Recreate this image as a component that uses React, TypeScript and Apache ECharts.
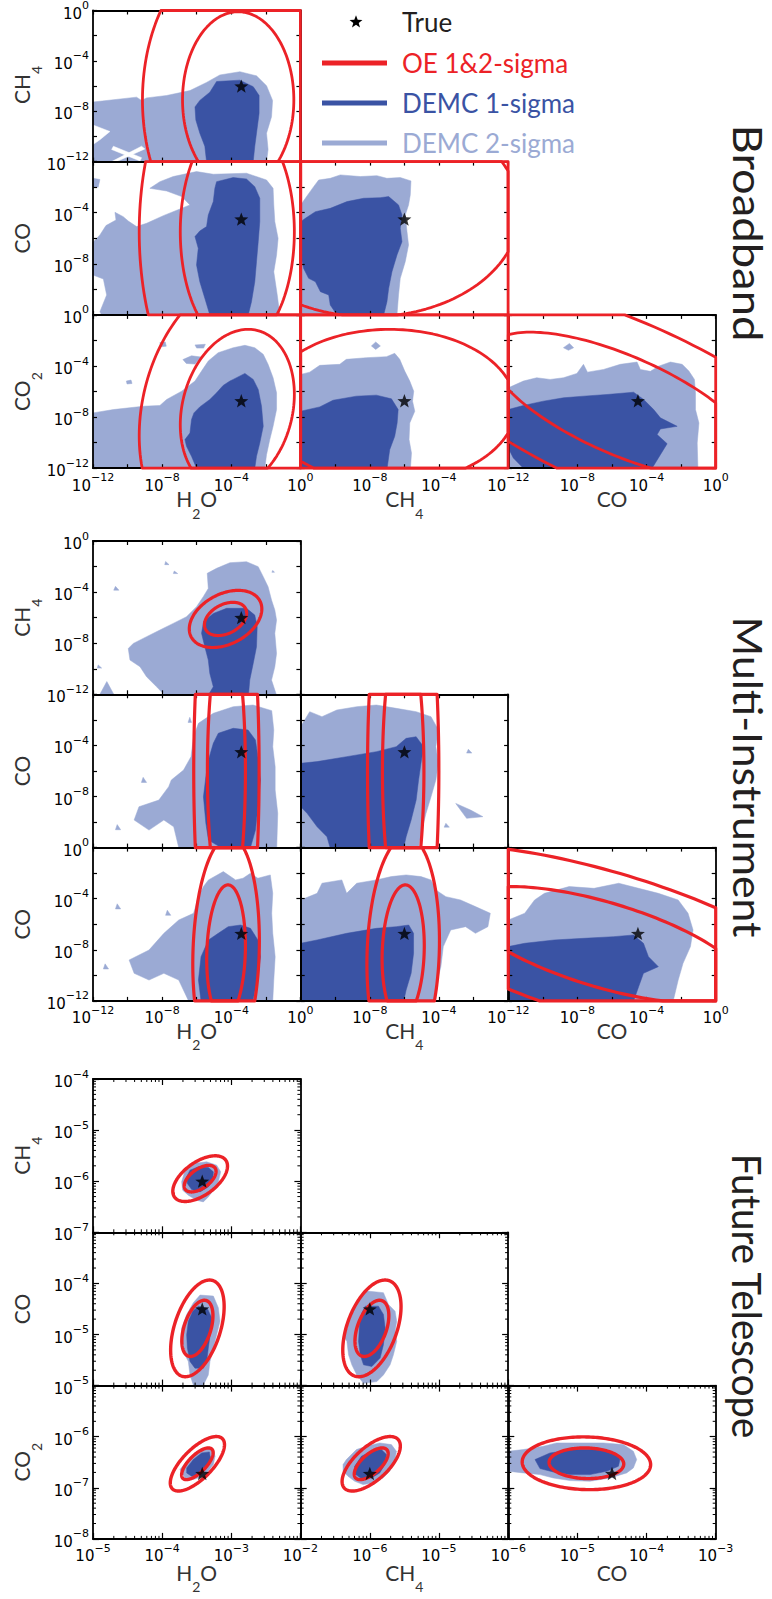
import React, { useEffect, useRef } from 'react';
import * as echarts from 'echarts';

// ---------------- colours ----------------
const RED = '#EC2227';
const DARK_BLUE = '#3A53A4';
const LIGHT_BLUE = '#9BAAD4';
const INK = '#231F20';

// ---------------- species / truth (log10 mixing ratio) ----------------
const X_NAMES = [['H', '2', 'O'], ['CH', '4', ''], ['CO', '', '']];
const Y_NAMES_BB = [['CH', '4', ''], ['CO', '', ''], ['CO', '2', '']];
const Y_NAMES_MI = [['CH', '4', ''], ['CO', '', ''], ['CO', '', '']];
const Y_NAMES_FT = [['CH', '4', ''], ['CO', '', ''], ['CO', '2', '']];
const X_SPECIES = ['H2O', 'CH4', 'CO'];
const Y_SPECIES = ['CH4', 'CO', 'CO2'];
const TRUE_LOG10: Record<string, number> = { H2O: -3.42, CH4: -6.0, CO: -4.5, CO2: -6.72 };

// ---------------- axes ----------------
const BB_RANGE = [-12, 0];
const FT_X_RANGES = [[-5, -2], [-7, -4], [-6, -3]];
const FT_Y_RANGES = [[-7, -4], [-6, -3], [-8, -5]];
const WIDE_X_LABELS = [[-12, -8, -4, 0], [-8, -4], [-12, -8, -4, 0]];
const WIDE_Y_LABELS = [[0, -4, -8, -12], [-4, -8], [0, -4, -8, -12]];
const FT_X_LABELS = [[-5, -4, -3, -2], [-6, -5], [-6, -5, -4, -3]];
const FT_Y_LABELS = [[-4, -5, -6, -7], [-4, -5], [-5, -6, -7, -8]];
const MINOR_FACTORS = [2, 3, 4, 5, 6, 7, 8, 9];
const OE_LEVELS = [1, 1.72];

// ---------------- Broadband: DEMC contours (log10 x, log10 y) ----------------
const BB_R1C1_LIGHT = [[[-12, -7.27], [-9.48, -6.88], [-9.19, -7.14], [-8.9, -6.94], [-7.74, -6.75], [-6.39, -6.36], [-5.43, -5.71], [-4.66, -5.12], [-3.5, -4.86], [-2.54, -5.19], [-1.96, -5.97], [-1.61, -7.14], [-1.67, -8.44], [-1.96, -9.74], [-1.87, -11.04], [-1.96, -12], [-12, -12]]];
const BB_R1C1_HOLES = [
  [[-12, -9.09], [-11.02, -9.61], [-11.6, -10.26], [-12, -10.65]],
  [[-10.92, -12], [-9.19, -10.78], [-9.0, -10.99], [-10.63, -12]],
  [[-10.82, -10.78], [-9.19, -11.69], [-9.28, -11.95], [-10.92, -11.04]],
];
const BB_R1C1_DARK = [[[-4.85, -5.64], [-3.5, -5.53], [-2.73, -6.05], [-2.39, -6.75], [-2.39, -8.18], [-2.54, -9.74], [-2.64, -10.78], [-2.73, -12], [-5.43, -12], [-5.53, -10.78], [-5.82, -9.74], [-6.05, -8.7], [-6.1, -7.66], [-5.82, -7.14], [-5.24, -6.49]]];
const BB_R2C1_LIGHT = [
  [[-1.96, -1.44], [-3.12, -0.91], [-5.04, -0.99], [-6.01, -0.78], [-7.36, -1.17], [-8.13, -1.57], [-8.71, -2.09], [-7.74, -2.3], [-6.87, -2.74], [-6.39, -3.39], [-6.97, -3.71], [-7.93, -4.23], [-8.9, -4.83], [-9.48, -5.09], [-9.96, -4.65], [-10.25, -4.31], [-10.73, -3.97], [-10.67, -4.57], [-11.25, -5.01], [-11.6, -5.74], [-12, -6.32], [-12, -8.88], [-11.4, -9.19], [-11.21, -10.44], [-11.6, -11.75], [-11.5, -12], [-1.19, -12], [-1.34, -10.44], [-1.54, -8.62], [-1.38, -7.31], [-1.29, -6.01], [-1.48, -4.7], [-1.54, -3.39], [-1.58, -2.09]],
  [[-12, -1.3], [-11.6, -1.4], [-11.7, -2.0], [-12, -2.0]],
];
const BB_R2C1_DARK = [[[-4.85, -1.57], [-3.89, -1.25], [-3.12, -1.36], [-2.64, -1.96], [-2.35, -2.87], [-2.35, -4.7], [-2.44, -6.27], [-2.54, -7.83], [-2.64, -9.4], [-2.83, -10.97], [-3.02, -12], [-5.24, -12], [-5.53, -10.7], [-5.82, -9.4], [-6.01, -8.09], [-5.91, -6.79], [-6.1, -5.87], [-5.82, -5.43], [-5.43, -5.09], [-5.33, -4.18], [-5.04, -3.13], [-4.95, -2.09]]];
const BB_R2C2_LIGHT = [[[-11.73, -2.87], [-11.25, -1.96], [-10.96, -1.44], [-10.29, -1.31], [-9.71, -1.04], [-8.55, -1.17], [-7.59, -1.1], [-7.01, -1.31], [-6.24, -1.25], [-5.62, -1.51], [-5.66, -2.61], [-5.76, -3.39], [-5.95, -4.18], [-5.85, -5.48], [-5.76, -6.53], [-5.95, -7.83], [-6.24, -9.14], [-6.34, -10.44], [-6.43, -12], [-12, -12], [-12, -3.39]]];
const BB_R2C2_DARK = [[[-11.73, -4.44], [-11.15, -3.92], [-10.29, -3.66], [-9.32, -3.13], [-8.36, -2.87], [-7.4, -2.82], [-6.91, -2.74], [-6.34, -3.39], [-6.14, -4.18], [-6.24, -5.22], [-6.14, -6.27], [-6.43, -7.31], [-6.72, -8.62], [-6.91, -9.92], [-7.01, -10.97], [-7.2, -12], [-9.9, -12], [-10.29, -11.23], [-10.38, -10.44], [-10.86, -10.18], [-11.15, -9.4], [-11.54, -9.14], [-11.83, -8.36], [-12, -7.31], [-12, -4.7]]];
const BB_R3C1_LIGHT = [
  [[-12, -7.67], [-10.82, -7.41], [-9.09, -7.15], [-8.13, -7.09], [-7.74, -6.62], [-6.87, -5.97], [-6.1, -5.18], [-5.72, -4.4], [-5.33, -3.61], [-4.76, -2.96], [-3.89, -2.57], [-3.21, -2.38], [-2.64, -2.57], [-2.15, -3.09], [-1.87, -3.87], [-1.58, -4.92], [-1.38, -6.1], [-1.38, -7.41], [-1.58, -8.72], [-1.77, -9.76], [-1.96, -10.94], [-2.06, -12], [-12, -12]],
  [[-8.13, -2.17], [-7.82, -2.12], [-7.76, -2.45], [-8.09, -2.5]],
  [[-10.07, -5.18], [-9.8, -5.1], [-9.74, -5.37], [-10.03, -5.41]],
  [[-6.1, -2.35], [-5.5, -2.3], [-5.6, -2.6], [-6.0, -2.6]],
  [[-6.8, -3.5], [-6.3, -3.2], [-5.75, -3.3], [-6.1, -3.85], [-6.6, -3.8]],
];
const BB_R3C1_DARK = [[[-3.89, -5.05], [-3.21, -4.58], [-2.73, -5.05], [-2.44, -5.84], [-2.25, -7.15], [-2.15, -8.72], [-2.35, -10.03], [-2.54, -11.07], [-2.64, -12], [-6.01, -12], [-6.3, -11.07], [-6.59, -10.29], [-6.68, -9.76], [-6.39, -9.24], [-6.3, -8.19], [-6.16, -7.67], [-5.82, -7.2], [-5.24, -6.62], [-4.85, -6.1], [-4.47, -5.52], [-4.08, -5.18]]];
const BB_R3C2_LIGHT = [
  [[-12, -4.66], [-11.48, -4.48], [-10.9, -3.95], [-9.74, -3.87], [-9.36, -3.48], [-8.2, -3.35], [-7.04, -3.27], [-6.56, -3.01], [-6.27, -3.48], [-5.98, -4.4], [-5.69, -5.18], [-5.46, -5.97], [-5.53, -6.75], [-5.4, -7.54], [-5.69, -8.46], [-5.73, -9.76], [-5.59, -10.81], [-5.65, -12], [-12, -12]],
  [[-7.91, -2.43], [-7.66, -2.12], [-7.39, -2.43], [-7.66, -2.7]],
];
const BB_R3C2_DARK = [[[-12, -7.54], [-10.9, -7.2], [-10.13, -6.68], [-8.78, -6.36], [-7.62, -6.28], [-6.75, -6.57], [-6.36, -7.41], [-6.42, -8.46], [-6.56, -9.5], [-6.85, -10.55], [-7.0, -12], [-12, -12]]];
const BB_R3C3_LIGHT = [
  [[-12, -5.71], [-11.13, -5.18], [-10.36, -4.92], [-9.58, -5.05], [-8.81, -4.92], [-8.03, -4.58], [-7.65, -3.87], [-7.42, -4.48], [-6.49, -4.27], [-5.52, -3.87], [-4.55, -3.69], [-4.36, -4.27], [-3.78, -4.42], [-3.3, -4.01], [-2.62, -3.69], [-1.94, -3.87], [-1.55, -4.4], [-1.23, -5.05], [-1.17, -6.1], [-1.17, -7.41], [-0.97, -8.46], [-1.07, -10.03], [-1.03, -12], [-12, -12]],
  [[-8.81, -2.57], [-8.46, -2.23], [-8.22, -2.57], [-8.52, -2.77]],
];
const BB_R3C3_DARK = [[[-12, -7.41], [-11.13, -7.09], [-9.97, -6.75], [-8.81, -6.49], [-7.65, -6.36], [-6.29, -6.23], [-4.75, -6.05], [-4.17, -6.62], [-3.59, -7.41], [-3.2, -8.06], [-2.23, -8.72], [-3.2, -8.93], [-3.39, -9.37], [-2.81, -10.08], [-3.2, -10.94], [-3.68, -12], [-11.13, -12], [-11.71, -11.2], [-12, -10.42]]];

// OE Gaussian: [centre x, centre y, sigma x, sigma y, correlation]
const BB_OE = [
  [[-3.6, -7.1, 3.22, 7.0, 0]],
  [[-3.65, -5.5, 3.3, 9.0, 0], [-8.0, -3.9, 8.66, 8.24, 0]],
  [[-3.65, -7.41, 3.3, 6.28, 0.19], [-6.85, -7.17, 7.29, 6.04, 0], [-5.39, -7.09, 7.71, 5.74, -0.689]],
];

// ---------------- Multi-Instrument ----------------
const MI_R1C1_LIGHT = [
  [[-5.33, -3.71], [-5.39, -2.53], [-4.85, -2.14], [-4.08, -1.7], [-3.12, -1.62], [-2.44, -2.01], [-2.15, -2.79], [-1.87, -3.58], [-1.67, -4.62], [-1.48, -5.4], [-1.38, -6.19], [-1.48, -7.23], [-1.38, -8.8], [-1.48, -9.84], [-1.67, -10.89], [-1.4, -12], [-7.9, -12], [-8.32, -11.41], [-8.9, -10.63], [-9.28, -9.84], [-9.86, -9.32], [-9.96, -8.41], [-9.67, -8.02], [-8.9, -7.49], [-8.13, -6.97], [-7.36, -6.45], [-6.59, -5.93], [-6.01, -5.14], [-5.62, -4.36]],
  [[-7.8, -1.6], [-7.6, -1.85], [-7.85, -1.85]],
  [[-7.3, -2.35], [-7.1, -2.55], [-7.35, -2.55]],
  [[-10.7, -3.55], [-10.5, -3.85], [-10.8, -3.85]],
  [[-1.6, -2.3], [-1.5, -2.45], [-1.65, -2.45]],
  [[-11.7, -9.7], [-11.5, -9.95], [-11.75, -9.95]],
  [[-11.6, -12], [-11.2, -11.0], [-10.8, -12]],
];
const MI_R1C1_DARK = [[[-5.04, -5.67], [-4.27, -5.27], [-3.12, -5.27], [-2.64, -5.8], [-2.5, -6.71], [-2.54, -8.28], [-2.73, -9.58], [-2.93, -10.89], [-3.0, -12], [-5.3, -12], [-5.04, -11.41], [-5.24, -10.37], [-5.33, -9.32], [-5.53, -8.28], [-5.72, -7.23], [-5.6, -6.3]]];
const MI_R2C1_LIGHT = [
  [[-5.04, -1.49], [-3.89, -0.97], [-2.74, -0.84], [-1.66, -1.28], [-1.54, -2.79], [-1.6, -4.1], [-1.46, -5.67], [-1.46, -7.49], [-1.31, -9.32], [-1.37, -12], [-7.04, -12], [-7.33, -10.37], [-7.9, -9.84], [-8.76, -10.63], [-9.62, -9.84], [-9.34, -8.8], [-8.19, -8.28], [-7.62, -7.23], [-7.47, -6.71], [-6.76, -5.93], [-6.33, -4.88], [-6.18, -3.32], [-5.9, -2.27]],
  [[-10.6, -10.2], [-10.4, -10.6], [-10.7, -10.6]],
  [[-9.1, -6.5], [-8.9, -6.9], [-9.2, -6.9]],
  [[-6.4, -1.8], [-6.3, -2.2], [-6.5, -2.2]],
];
const MI_R2C1_DARK = [[[-4.75, -3.05], [-3.89, -2.66], [-3.03, -2.79], [-2.6, -3.58], [-2.46, -4.88], [-2.31, -6.71], [-2.46, -8.8], [-2.6, -10.63], [-2.89, -12], [-4.6, -12], [-5.32, -11.41], [-5.47, -10.1], [-5.61, -8.02], [-5.47, -6.45], [-5.32, -5.14], [-5.04, -3.84]]];
const MI_R2C2_LIGHT = [
  [[-12, -2.53], [-11.48, -1.36], [-10.77, -1.75], [-9.91, -1.23], [-8.76, -0.97], [-7.62, -0.84], [-6.47, -1.1], [-5.32, -1.36], [-4.46, -1.75], [-4.03, -2.79], [-4.18, -4.1], [-4.03, -5.4], [-4.18, -6.71], [-4.46, -8.02], [-4.75, -9.32], [-5.04, -10.89], [-5.18, -12], [-12, -12]],
  [[-3.03, -8.54], [-2.17, -9.06], [-1.46, -9.58], [-2.4, -9.71]],
  [[-3.6, -10.1], [-3.4, -10.4], [-3.7, -10.4]],
  [[-2.3, -4.3], [-2.1, -4.6], [-2.4, -4.6]],
];
const MI_R2C2_DARK = [[[-12, -5.4], [-11.05, -5.27], [-9.34, -4.88], [-7.62, -4.49], [-6.47, -4.1], [-5.9, -3.45], [-5.32, -3.32], [-4.89, -4.1], [-5.04, -5.4], [-5.18, -6.71], [-5.32, -8.28], [-5.61, -9.84], [-5.9, -11.15], [-6.04, -12], [-10.3, -12], [-10.48, -11.15], [-11.05, -10.37], [-11.63, -9.32], [-12, -8.8]]];
const MI_R3C1_LIGHT = [
  [[-5.32, -2.53], [-4.46, -1.88], [-3.75, -2.53], [-3.32, -2.4], [-2.89, -2.01], [-2.46, -2.4], [-1.74, -2.14], [-1.6, -3.58], [-1.66, -5.14], [-1.6, -6.71], [-1.46, -8.54], [-1.54, -10.37], [-1.6, -12], [-6.47, -12], [-7.04, -10.37], [-7.9, -9.84], [-8.76, -10.37], [-9.62, -9.84], [-9.91, -8.8], [-8.76, -8.02], [-7.9, -6.71], [-7.04, -5.67], [-6.18, -5.14], [-5.9, -3.84], [-5.61, -3.05]],
  [[-7.7, -4.9], [-7.5, -5.3], [-7.8, -5.3]],
  [[-10.6, -4.4], [-10.4, -4.8], [-10.7, -4.8]],
  [[-11.3, -9.1], [-11.1, -9.5], [-11.4, -9.5]],
];
const MI_R3C1_DARK = [[[-4.18, -6.19], [-3.46, -6.06], [-2.89, -6.32], [-2.46, -7.23], [-2.31, -8.54], [-2.46, -10.1], [-2.75, -12], [-5.75, -12], [-5.9, -10.37], [-5.75, -8.54], [-5.32, -7.23], [-4.75, -6.71]]];
const MI_R3C2_LIGHT = [[[-12, -4.1], [-11.05, -3.58], [-10.77, -2.79], [-9.62, -2.53], [-9.34, -3.58], [-8.76, -2.79], [-7.62, -2.53], [-6.76, -2.27], [-5.9, -2.14], [-5.04, -2.27], [-4.46, -2.53], [-4.18, -3.32], [-3.6, -3.84], [-2.75, -4.1], [-1.89, -4.62], [-1.03, -5.14], [-1.17, -6.19], [-1.89, -6.71], [-2.46, -6.19], [-3.32, -6.45], [-3.75, -7.75], [-3.89, -9.32], [-4.18, -10.89], [-4.32, -12], [-12, -12]]];
const MI_R3C2_DARK = [[[-12, -7.49], [-11.05, -7.23], [-9.34, -6.71], [-7.62, -6.32], [-6.47, -6.19], [-5.75, -6.06], [-5.47, -6.71], [-5.47, -8.28], [-5.61, -9.84], [-5.9, -11.15], [-6.04, -12], [-12, -12]]];
const MI_R3C3_LIGHT = [[[-12, -5.67], [-11.05, -5.14], [-10.48, -4.1], [-9.91, -3.58], [-8.48, -3.05], [-7.04, -3.19], [-5.61, -2.79], [-4.46, -3.19], [-3.32, -3.58], [-2.17, -4.1], [-1.6, -5.14], [-1.31, -6.45], [-1.46, -7.75], [-1.89, -9.06], [-2.17, -10.37], [-2.46, -12], [-12, -12]]];
const MI_R3C3_DARK = [[[-12, -7.75], [-11.05, -7.49], [-9.34, -7.23], [-7.62, -7.1], [-5.9, -6.97], [-4.75, -6.84], [-4.18, -7.49], [-3.89, -8.54], [-3.32, -9.32], [-4.18, -9.84], [-4.46, -10.89], [-4.75, -12], [-12, -12]]];

const MI_OE = [
  [[-4.33, -6.1, 1.22, 1.3, 0.35]],
  [[-4.28, -6.0, 1.1, 11.3, 0], [-6.07, -6.0, 1.2, 11.3, 0]],
  [[-4.3, -8.2, 1.12, 5.28, 0.1], [-6.07, -8.2, 1.22, 5.28, 0.1], [-6.5, -7.61, 8.15, 4.56, -0.652]],
];

// ---------------- Future Telescope ----------------
const FT_R1C1_LIGHT = [[[-3.717, -6.013], [-3.669, -5.784], [-3.549, -5.654], [-3.356, -5.621], [-3.211, -5.686], [-3.153, -5.817], [-3.187, -6.013], [-3.259, -6.176], [-3.332, -6.307], [-3.404, -6.405], [-3.5, -6.373], [-3.621, -6.275], [-3.703, -6.176]]];
const FT_R1C1_DARK = [[[-3.645, -5.915], [-3.597, -5.784], [-3.476, -5.719], [-3.332, -5.732], [-3.259, -5.817], [-3.269, -5.98], [-3.332, -6.111], [-3.452, -6.209], [-3.573, -6.163], [-3.635, -6.046]]];
const FT_R2C1_LIGHT = [[[-3.452, -4.228], [-3.259, -4.248], [-3.187, -4.477], [-3.163, -4.74], [-3.211, -5.003], [-3.259, -5.265], [-3.308, -5.528], [-3.332, -5.791], [-3.404, -5.988], [-3.549, -5.988], [-3.597, -5.791], [-3.621, -5.528], [-3.693, -5.331], [-3.727, -5.134], [-3.717, -4.871], [-3.645, -4.609], [-3.549, -4.379]]];
const FT_R2C1_DARK = [[[-3.476, -4.445], [-3.346, -4.49], [-3.283, -4.674], [-3.298, -4.937], [-3.332, -5.265], [-3.356, -5.528], [-3.404, -5.659], [-3.525, -5.659], [-3.597, -5.528], [-3.635, -5.265], [-3.645, -5.003], [-3.621, -4.74], [-3.558, -4.543]]];
const FT_R2C2_LIGHT = [[[-6.043, -4.149], [-5.803, -4.182], [-5.731, -4.412], [-5.635, -4.543], [-5.611, -4.74], [-5.635, -4.937], [-5.611, -5.134], [-5.659, -5.397], [-5.707, -5.594], [-5.803, -5.791], [-5.899, -5.922], [-6.091, -5.955], [-6.188, -5.791], [-6.26, -5.594], [-6.308, -5.397], [-6.332, -5.134], [-6.38, -5.035], [-6.322, -4.871], [-6.284, -4.609], [-6.188, -4.346]]];
const FT_R2C2_DARK = [[[-6.067, -4.445], [-5.875, -4.445], [-5.803, -4.609], [-5.779, -4.871], [-5.803, -5.2], [-5.851, -5.462], [-5.971, -5.626], [-6.091, -5.594], [-6.139, -5.397], [-6.163, -5.134], [-6.149, -4.806], [-6.115, -4.576]]];
const FT_R3C1_LIGHT = [[[-3.742, -6.644], [-3.645, -6.481], [-3.5, -6.318], [-3.356, -6.22], [-3.259, -6.252], [-3.235, -6.383], [-3.259, -6.546], [-3.332, -6.676], [-3.404, -6.774], [-3.549, -6.84], [-3.669, -6.807]]];
const FT_R3C1_DARK = [[[-3.645, -6.611], [-3.549, -6.448], [-3.428, -6.318], [-3.317, -6.298], [-3.298, -6.448], [-3.356, -6.611], [-3.452, -6.742], [-3.573, -6.774], [-3.645, -6.709]]];
const FT_R3C2_LIGHT = [[[-6.387, -6.546], [-6.339, -6.448], [-6.194, -6.252], [-6.05, -6.187], [-5.857, -6.122], [-5.688, -6.155], [-5.616, -6.285], [-5.64, -6.481], [-5.712, -6.676], [-5.808, -6.807], [-5.953, -6.905], [-6.098, -6.937], [-6.219, -6.872], [-6.315, -6.774], [-6.387, -6.676]]];
const FT_R3C2_DARK = [[[-6.219, -6.579], [-6.122, -6.383], [-5.977, -6.285], [-5.833, -6.252], [-5.76, -6.35], [-5.784, -6.546], [-5.857, -6.709], [-5.977, -6.807], [-6.122, -6.82], [-6.204, -6.742]]];
const FT_R3C3_LIGHT = [[[-6.0, -6.285], [-5.783, -6.252], [-5.493, -6.187], [-5.301, -6.122], [-4.963, -6.122], [-4.625, -6.122], [-4.336, -6.155], [-4.191, -6.285], [-4.143, -6.448], [-4.191, -6.611], [-4.288, -6.709], [-4.529, -6.807], [-4.818, -6.872], [-5.108, -6.859], [-5.349, -6.807], [-5.542, -6.742], [-5.783, -6.709], [-6.0, -6.676]]];
const FT_R3C3_DARK = [[[-5.614, -6.448], [-5.397, -6.318], [-5.059, -6.252], [-4.722, -6.252], [-4.456, -6.318], [-4.384, -6.448], [-4.408, -6.579], [-4.577, -6.676], [-4.818, -6.742], [-5.108, -6.742], [-5.349, -6.69], [-5.542, -6.624]]];

const FT_OE = [
  [[-3.45, -5.95, 0.23, 0.26, 0.55]],
  [[-3.49, -4.88, 0.225, 0.55, 0.45], [-5.97, -4.88, 0.245, 0.55, 0.45]],
  [[-3.49, -6.53, 0.228, 0.31, 0.7], [-5.98, -6.53, 0.245, 0.31, 0.65], [-4.87, -6.52, 0.54, 0.3, -0.05]],
];

// ---------------- legend / labels ----------------
const LEGEND_TEXTS = ['True', 'OE 1&2-sigma', 'DEMC 1-sigma', 'DEMC 2-sigma'];
const LEGEND_COLORS = [INK, RED, DARK_BLUE, LIGHT_BLUE];
const GROUP_TITLES = ['Broadband', 'Multi-Instrument', 'Future Telescope'];

// ---------------- layout ----------------
const W = 772;
const H = 1599;
const COL_LEFTS = [93, 300.7, 508.3];
const GROUP_TOPS = [8.3, 541, 1079];
const PANEL_W = 207.4;
const PANEL_H = 153.3;

const STAR_PTS = [[0, -10], [2.47, -3.4], [9.51, -3.09], [3.99, 1.3], [5.88, 8.09], [0, 4.2], [-5.88, 8.09], [-3.99, 1.3], [-9.51, -3.09], [-2.47, -3.4]];
const STAR_SYMBOL = 'path://M' + STAR_PTS.map((p) => p.join(',')).join('L') + 'Z';

const NO_HOLES: number[][][] = [];

const GROUPS = [
  {
    key: 'BB', xRanges: [BB_RANGE, BB_RANGE, BB_RANGE], yRanges: [BB_RANGE, BB_RANGE, BB_RANGE], step: 2,
    xLabels: WIDE_X_LABELS, yLabels: WIDE_Y_LABELS, yNames: Y_NAMES_BB, oe: BB_OE, lw: 2.8, tick: 4,
    light: [[BB_R1C1_LIGHT], [BB_R2C1_LIGHT, BB_R2C2_LIGHT], [BB_R3C1_LIGHT, BB_R3C2_LIGHT, BB_R3C3_LIGHT]],
    holes: [[BB_R1C1_HOLES], [NO_HOLES, NO_HOLES], [NO_HOLES, NO_HOLES, NO_HOLES]],
    dark: [[BB_R1C1_DARK], [BB_R2C1_DARK, BB_R2C2_DARK], [BB_R3C1_DARK, BB_R3C2_DARK, BB_R3C3_DARK]],
    minor: false, nameGap: 36,
  },
  {
    key: 'MI', xRanges: [BB_RANGE, BB_RANGE, BB_RANGE], yRanges: [BB_RANGE, BB_RANGE, BB_RANGE], step: 2,
    xLabels: WIDE_X_LABELS, yLabels: WIDE_Y_LABELS, yNames: Y_NAMES_MI, oe: MI_OE, lw: 3.2, tick: 4,
    light: [[MI_R1C1_LIGHT], [MI_R2C1_LIGHT, MI_R2C2_LIGHT], [MI_R3C1_LIGHT, MI_R3C2_LIGHT, MI_R3C3_LIGHT]],
    holes: [[NO_HOLES], [NO_HOLES, NO_HOLES], [NO_HOLES, NO_HOLES, NO_HOLES]],
    dark: [[MI_R1C1_DARK], [MI_R2C1_DARK, MI_R2C2_DARK], [MI_R3C1_DARK, MI_R3C2_DARK, MI_R3C3_DARK]],
    minor: false, nameGap: 35,
  },
  {
    key: 'FT', xRanges: FT_X_RANGES, yRanges: FT_Y_RANGES, step: 1,
    xLabels: FT_X_LABELS, yLabels: FT_Y_LABELS, yNames: Y_NAMES_FT, oe: FT_OE, lw: 3.4, tick: 6,
    light: [[FT_R1C1_LIGHT], [FT_R2C1_LIGHT, FT_R2C2_LIGHT], [FT_R3C1_LIGHT, FT_R3C2_LIGHT, FT_R3C3_LIGHT]],
    holes: [[NO_HOLES], [NO_HOLES, NO_HOLES], [NO_HOLES, NO_HOLES, NO_HOLES]],
    dark: [[FT_R1C1_DARK], [FT_R2C1_DARK, FT_R2C2_DARK], [FT_R3C1_DARK, FT_R3C2_DARK, FT_R3C3_DARK]],
    minor: true, nameGap: 39,
  },
];

// ---------------- helpers ----------------
function ellipsePts(e: number[], k: number) {
  const [cx, cy, sx, sy, rho] = e;
  const n = 180;
  const s = Math.sqrt(1 - rho * rho);
  const pts: number[][] = [];
  for (let i = 0; i < n; i++) {
    const t = (2 * Math.PI * i) / n;
    pts.push([cx + k * sx * Math.cos(t), cy + k * sy * (rho * Math.cos(t) + s * Math.sin(t))]);
  }
  return pts;
}

function clipEdge(pts: number[][], inside: (p: number[]) => boolean, cross: (a: number[], b: number[]) => number[]) {
  const out: number[][] = [];
  for (let i = 0; i < pts.length; i++) {
    const cur = pts[i];
    const prev = pts[(i + pts.length - 1) % pts.length];
    const ci = inside(cur);
    const pi = inside(prev);
    if (ci) {
      if (!pi) out.push(cross(prev, cur));
      out.push(cur);
    } else if (pi) {
      out.push(cross(prev, cur));
    }
  }
  return out;
}

function clipRect(pts: number[][], x0: number, x1: number, y0: number, y1: number) {
  const atX = (a: number[], b: number[], x: number) => [x, a[1] + ((b[1] - a[1]) * (x - a[0])) / (b[0] - a[0])];
  const atY = (a: number[], b: number[], y: number) => [a[0] + ((b[0] - a[0]) * (y - a[1])) / (b[1] - a[1]), y];
  let p = pts;
  p = clipEdge(p, (q) => q[0] >= x0, (a, b) => atX(a, b, x0));
  if (p.length) p = clipEdge(p, (q) => q[0] <= x1, (a, b) => atX(a, b, x1));
  if (p.length) p = clipEdge(p, (q) => q[1] >= y0, (a, b) => atY(a, b, y0));
  if (p.length) p = clipEdge(p, (q) => q[1] <= y1, (a, b) => atY(a, b, y1));
  return p;
}

const TICK_RICH = {
  b: { fontFamily: 'DejaVu Sans', fontSize: 15, color: '#000', lineHeight: 21, verticalAlign: 'bottom' },
  s: { fontFamily: 'DejaVu Sans', fontSize: 11, color: '#000', lineHeight: 11, verticalAlign: 'top' },
};

const NAME_RICH = {
  n: { fontFamily: 'Lato', fontSize: 21, fill: '#333', color: '#333', lineHeight: 32, verticalAlign: 'top' },
  u: { fontFamily: 'Lato', fontSize: 14, fill: '#333', color: '#333', lineHeight: 14, verticalAlign: 'bottom' },
};

function labelFormatter(shown: number[]) {
  return (v: number) => {
    const r = Math.round(v);
    if (!shown.includes(r)) return '';
    const e = r === 0 ? '0' : '\u2212' + Math.abs(r);
    return '{b|10}{s|' + e + '}';
  };
}

function makeAxis(position: string, gridIndex: number, range: number[], step: number, shown: number[], tickLen: number) {
  return {
    type: 'value',
    gridIndex,
    position,
    min: range[0],
    max: range[1],
    interval: step,
    z: 3,
    axisLine: { show: true, onZero: false, lineStyle: { color: '#000', width: 1.8 } },
    axisTick: { show: true, inside: true, length: tickLen, lineStyle: { color: '#000', width: 1.2 } },
    splitLine: { show: false },
    axisLabel: {
      show: shown.length > 0,
      formatter: labelFormatter(shown),
      rich: TICK_RICH,
      margin: 4,
      showMinLabel: true,
      showMaxLabel: true,
      hideOverlap: false,
    },
  };
}

function nameText(parts: string[]) {
  let s = '{n|' + parts[0] + '}';
  if (parts[1]) s += '{u|' + parts[1] + '}';
  if (parts[2]) s += '{n|' + parts[2] + '}';
  return s;
}

function measureWidth(text: string, font: string) {
  const ctx = document.createElement('canvas').getContext('2d');
  if (!ctx) return 0;
  ctx.font = font;
  return ctx.measureText(text).width;
}

function polyChildren(polys: number[][][], color: string, xr: number[], yr: number[], api: any) {
  return polys.map((poly) => {
    const pts = clipRect(poly, xr[0], xr[1], yr[0], yr[1]).map((p) => api.coord(p));
    return { type: 'polygon', shape: { points: pts }, style: { fill: color, stroke: color, lineWidth: 0.5 } };
  });
}

function buildOption() {
  const grid: any[] = [];
  const xAxis: any[] = [];
  const yAxis: any[] = [];
  const series: any[] = [];
  const graphic: any[] = [];
  let g = 0;

  GROUPS.forEach((grp, gi) => {
    for (let r = 0; r < 3; r++) {
      for (let c = 0; c <= r; c++) {
        const left = COL_LEFTS[c];
        const top = GROUP_TOPS[gi] + r * PANEL_H;
        grid.push({ left, top, width: PANEL_W, height: PANEL_H, containLabel: false });
        const xr = grp.xRanges[c];
        const yr = grp.yRanges[r];
        const xShown = r === 2 ? grp.xLabels[c] : [];
        const yShown = c === 0 ? grp.yLabels[r] : [];
        xAxis.push(makeAxis('bottom', g, xr, grp.step, xShown, grp.tick));
        xAxis.push(makeAxis('top', g, xr, grp.step, [], grp.tick));
        yAxis.push(makeAxis('left', g, yr, grp.step, yShown, grp.tick));
        yAxis.push(makeAxis('right', g, yr, grp.step, [], grp.tick));
        const ai = 2 * g;
        const light = grp.light[r][c];
        const holes = grp.holes[r][c];
        const dark = grp.dark[r][c];
        const oe = grp.oe[r][c];
        const lw = grp.lw;

        // DEMC filled contours
        series.push({
          type: 'custom',
          xAxisIndex: ai,
          yAxisIndex: ai,
          z: 1,
          silent: true,
          data: [[xr[0], yr[0]]],
          renderItem: (params: any, api: any) => ({
            type: 'group',
            children: [
              ...polyChildren(light, LIGHT_BLUE, xr, yr, api),
              ...polyChildren(holes, '#ffffff', xr, yr, api),
              ...polyChildren(dark, DARK_BLUE, xr, yr, api),
            ],
          }),
        });

        // OE 1 & 2 sigma ellipses, clipped to the panel
        series.push({
          type: 'custom',
          xAxisIndex: ai,
          yAxisIndex: ai,
          z: 5,
          silent: true,
          data: [[xr[0], yr[0]]],
          renderItem: (params: any, api: any) => {
            const children: any[] = [];
            OE_LEVELS.forEach((k) => {
              const clipped = clipRect(ellipsePts(oe, k), xr[0], xr[1], yr[0], yr[1]);
              if (clipped.length > 2) {
                children.push({
                  type: 'polygon',
                  shape: { points: clipped.map((p) => api.coord(p)) },
                  style: { fill: 'none', stroke: RED, lineWidth: lw, lineJoin: 'round' },
                });
              }
            });
            return { type: 'group', children };
          },
        });

        // minor log ticks (Future Telescope)
        if (grp.minor) {
          series.push({
            type: 'custom',
            xAxisIndex: ai,
            yAxisIndex: ai,
            z: 4,
            silent: true,
            data: [[xr[0], yr[0]]],
            renderItem: (params: any, api: any) => {
              const bl = api.coord([xr[0], yr[0]]);
              const tr = api.coord([xr[1], yr[1]]);
              const children: any[] = [];
              const st = { stroke: '#000', lineWidth: 1 };
              for (let d = xr[0]; d < xr[1]; d++) {
                MINOR_FACTORS.forEach((f) => {
                  const px = api.coord([d + Math.log10(f), yr[0]])[0];
                  children.push({ type: 'line', shape: { x1: px, y1: bl[1], x2: px, y2: bl[1] - 3 }, style: st });
                  children.push({ type: 'line', shape: { x1: px, y1: tr[1], x2: px, y2: tr[1] + 3 }, style: st });
                });
              }
              for (let d = yr[0]; d < yr[1]; d++) {
                MINOR_FACTORS.forEach((f) => {
                  const py = api.coord([xr[0], d + Math.log10(f)])[1];
                  children.push({ type: 'line', shape: { x1: bl[0], y1: py, x2: bl[0] + 3, y2: py }, style: st });
                  children.push({ type: 'line', shape: { x1: tr[0], y1: py, x2: tr[0] - 3, y2: py }, style: st });
                });
              }
              return { type: 'group', children };
            },
          });
        }

        // true value star
        series.push({
          type: 'scatter',
          xAxisIndex: ai,
          yAxisIndex: ai,
          z: 6,
          silent: true,
          symbol: STAR_SYMBOL,
          symbolSize: 14,
          symbolKeepAspect: true,
          itemStyle: { color: '#000' },
          data: [[TRUE_LOG10[X_SPECIES[c]], TRUE_LOG10[Y_SPECIES[r]]]],
        });
        g++;
      }
    }

    // axis names
    const gTop = GROUP_TOPS[gi];
    for (let r = 0; r < 3; r++) {
      graphic.push({
        type: 'text',
        x: 27,
        y: gTop + (r + 0.5) * PANEL_H,
        rotation: Math.PI / 2,
        style: { text: nameText(grp.yNames[r]), rich: NAME_RICH, fontFamily: 'Lato', fontSize: 21, fill: '#333', align: 'center', verticalAlign: 'middle', textAlign: 'center', textVerticalAlign: 'middle' },
      });
    }
    for (let c = 0; c < 3; c++) {
      graphic.push({
        type: 'text',
        x: COL_LEFTS[c] + PANEL_W / 2,
        y: gTop + 3 * PANEL_H + grp.nameGap,
        style: { text: nameText(X_NAMES[c]), rich: NAME_RICH, fontFamily: 'Lato', fontSize: 21, fill: '#333', align: 'center', verticalAlign: 'middle', textAlign: 'center', textVerticalAlign: 'middle' },
      });
    }
  });

  // group titles on the right
  const titleY = [233, 777, 1296];
  const titleLen = [217, 321, 286];
  GROUP_TITLES.forEach((t, i) => {
    const font = '40px Lato';
    const w = measureWidth(t, font) || titleLen[i];
    graphic.push({
      type: 'text',
      x: 748,
      y: titleY[i],
      rotation: -Math.PI / 2,
      scaleX: titleLen[i] / w,
      style: { text: t, fontFamily: 'Lato', fontSize: 40, lineHeight: 40, fill: INK, align: 'center', verticalAlign: 'middle', textAlign: 'center', textVerticalAlign: 'middle' },
    });
  });

  // legend
  const legY = [22, 63, 103, 143];
  graphic.push({
    type: 'polygon',
    x: 356,
    y: 22,
    shape: { points: STAR_PTS.map((p) => [p[0] * 0.68, p[1] * 0.68]) },
    style: { fill: '#000' },
  });
  LEGEND_TEXTS.forEach((t, i) => {
    if (i > 0) {
      graphic.push({
        type: 'line',
        shape: { x1: 322, y1: legY[i], x2: 387, y2: legY[i] },
        style: { stroke: LEGEND_COLORS[i], lineWidth: 5 },
      });
    }
    graphic.push({
      type: 'text',
      x: 402,
      y: legY[i],
      style: { text: t, fontFamily: 'Lato', fontSize: 26, fill: LEGEND_COLORS[i], align: 'left', verticalAlign: 'middle', textAlign: 'left', textVerticalAlign: 'middle' },
    });
  });

  return {
    animation: false,
    backgroundColor: '#fff',
    grid,
    xAxis,
    yAxis,
    series,
    graphic,
  };
}

export default function App() {
  const ref = useRef<HTMLDivElement>(null);
  useEffect(() => {
    if (!ref.current) return;
    const chart = echarts.init(ref.current, null, { renderer: 'svg' });
    chart.setOption(buildOption() as any);
    return () => chart.dispose();
  }, []);
  return <div ref={ref} style={{ position: 'absolute', left: 0, top: 0, width: W, height: H, background: '#fff' }} />;
}
